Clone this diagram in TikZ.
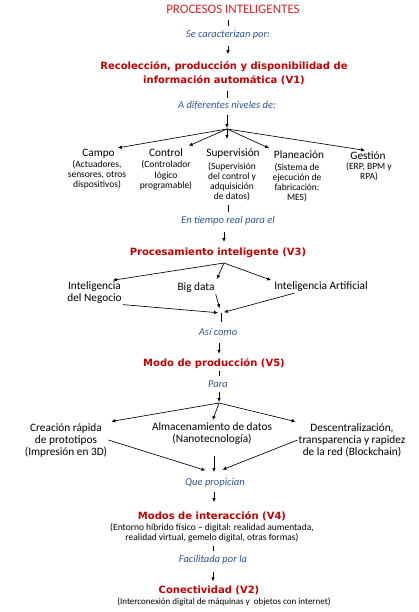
\documentclass[tikz,border=0pt]{standalone}
\usepackage{fontspec}
\setmainfont{Carlito}
\newfontfamily\headfont{DejaVu Sans}
\usetikzlibrary{arrows.meta, positioning}
\definecolor{titlered}{RGB}{212, 36, 40}
\definecolor{headred}{RGB}{196, 0, 0}
\definecolor{linkblue}{RGB}{47, 84, 150}

\tikzset{
    titletext/.style={font=\fontsize{13}{15}\selectfont, text=titlered, inner sep=1pt},
    linktext/.style={font=\fontsize{10.5}{12}\selectfont\itshape, text=linkblue, inner sep=1pt},
    headtext/.style={font=\headfont\bfseries\fontsize{10}{14}\selectfont, text=headred, align=center, inner sep=1pt},
    itemtext/.style={font=\fontsize{11.3}{12}\selectfont, align=center, inner sep=1pt},
    subtext/.style={font=\fontsize{9.5}{10.2}\selectfont, align=center, inner sep=1pt},
    tickline/.style={line width=0.65pt},
    arrowline/.style={line width=0.65pt, -{Latex[length=4pt,width=3.6pt]}},
}

\begin{document}
\begin{tikzpicture}[x=1pt, y=-1pt]
        \useasboundingbox (0,0) rectangle (418,612);

        % Título y V1
        \node[titletext] (title) at (233,9) {PROCESOS INTELIGENTES};
        \node[linktext] (carac) at (228,35) {Se caracterizan por:};
        \node[headtext] (v1) at (224,73) {Recolección, producción y disponibilidad de\\información automática (V1)};
        \node[linktext] (niveles) at (227,105) {A diferentes niveles de:};
        \coordinate (fan1) at (227,129);

        \draw[tickline, shorten <=6pt, shorten >=3pt] (carac.north |- title.south) -- (carac.north);
        \draw[arrowline, shorten <=5pt, shorten >=6pt] (carac.south) -- (carac.south |- v1.north);
        \draw[tickline, shorten <=5pt, shorten >=2pt] (niveles.north |- v1.south) -- (niveles.north);
        \draw[arrowline, shorten <=5pt, shorten >=1pt] (niveles.south) -- (fan1);

        % Niveles
        \node[itemtext] (campo) at (98.5,154) {Campo};
        \node[subtext] (camposub) at (97,175) {(Actuadores,\\sensores, otros\\dispositivos)};
        \node[itemtext] (control) at (166,153) {Control};
        \node[subtext] (controlsub) at (166,175.5) {(Controlador\\lógico\\programable)};
        \node[itemtext] (superv) at (233,154) {Supervisión};
        \node[subtext] (supervsub) at (232,181.5) {(Supervisión\\del control y\\adquisición\\de datos)};
        \node[itemtext] (planea) at (299,155) {Planeación};
        \node[subtext] (planeasub) at (297,182.5) {(Sistema de\\ejecución de\\fabricación:\\MES)};
        \node[itemtext] (gestion) at (368,156) {Gestión};
        \node[subtext] (gestionsub) at (369,171.5) {(ERP, BPM y\\RPA)};

        \draw[arrowline, shorten >=2pt] (fan1) -- (campo.north east);
        \draw[arrowline, shorten >=5pt] (fan1) -- (control.north east);
        \draw[arrowline, shorten >=9pt] (fan1) -- (fan1 |- superv.north);
        \draw[arrowline, shorten >=4pt] (fan1) -- (planea.north west);
        \draw[arrowline, shorten >=3pt] (fan1) -- (gestion.north);

        % V3
        \node[linktext] (tiempo) at (228,221) {En tiempo real para el};
        \node[headtext] (v3) at (218,253) {Procesamiento inteligente (V3)};
        \coordinate (fan2) at (224,263);

        \draw[tickline, shorten <=3pt, shorten >=3pt] (tiempo.north |- supervsub.south) -- (tiempo.north);
        \draw[arrowline, shorten <=5pt, shorten >=5pt] (tiempo.south -| fan2) -- (fan2 |- v3.north);

        \node[itemtext] (negocio) at (94.5,292.5) {Inteligencia\\del Negocio};
        \node[itemtext] (bigdata) at (196,288) {Big data};
        \node[itemtext] (ia) at (321,287) {Inteligencia Artificial};
        \coordinate (join1) at (221,313);

        \draw[arrowline, shorten >=1pt] (fan2) -- (negocio.35);
        \draw[arrowline, shorten >=3pt] (fan2) -- (bigdata.north east);
        \draw[arrowline, shorten >=2pt] (fan2) -- (ia.north west);
        \draw[arrowline, shorten >=3pt] (negocio.south east) -- (join1);
        \draw[arrowline, shorten >=5pt] (bigdata.south east) -- (join1);
        \draw[arrowline, shorten >=3pt] (ia.193) -- (join1);

        % V5
        \node[linktext] (asi) at (218,332) {Así como};
        \node[headtext] (v5) at (214,364) {Modo de producción (V5)};
        \node[linktext] (para) at (218,384) {Para};
        \coordinate (fan3) at (219,403);

        \draw[tickline, shorten >=5pt] (join1) -- (join1 |- asi.north);
        \draw[arrowline, shorten <=6pt, shorten >=4pt] (asi.south -| fan3) -- (fan3 |- v5.north);
        \draw[tickline, shorten <=1pt, shorten >=3pt] (fan3 |- v5.south) -- (fan3 |- para.north);
        \draw[arrowline, shorten <=3pt, shorten >=1pt] (fan3 |- para.south) -- (fan3);

        \node[itemtext] (creacion) at (66,440) {Creación rápida\\de prototipos\\(Impresión en 3D)};
        \node[itemtext] (almac) at (212,434) {Almacenamiento de datos\\(Nanotecnología)};
        \node[itemtext] (descen) at (352,440) {Descentralización,\\transparencia y rapidez\\de la red (Blockchain)};
        \coordinate (join2) at (214,473);

        \draw[arrowline, shorten >=3pt] (fan3) -- (creacion.north east);
        \draw[arrowline, shorten >=2pt] (fan3) -- (almac.north);
        \draw[arrowline, shorten >=2pt] (fan3) -- (descen.north west);
        \draw[arrowline, shorten >=9pt] (creacion.east) -- (join2);
        \draw[arrowline, shorten <=10pt, shorten >=1pt] (join2 |- almac.south) -- (join2);
        \draw[arrowline, shorten >=9pt] (descen.west) -- (join2);

        % V4 y V2
        \node[linktext] (propician) at (215,483) {Que propician};
        \node[headtext] (v4) at (212,516) {Modos de interacción (V4)};
        \node[subtext] (v4sub) at (212,532.5) {(Entorno híbrido físico -- digital: realidad aumentada,\\realidad virtual, gemelo digital, otras formas)};
        \node[linktext] (facil) at (213,560) {Facilitada por la};
        \node[headtext] (v2) at (209,590) {Conectividad (V2)};
        \node[subtext, font=\fontsize{9}{10}\selectfont] (v2sub) at (224,602) {(Interconexión digital de máquinas y \ objetos con internet)};

        \draw[arrowline, shorten <=3pt, shorten >=8pt] (join2 |- propician.south) -- (join2 |- v4.north);
        \draw[tickline, shorten <=3pt, shorten >=3pt] (facil.north |- v4sub.south) -- (facil.north);
        \draw[arrowline, shorten <=6pt, shorten >=3pt] (facil.south) -- (facil.south |- v2.north);

    \end{tikzpicture}
\end{document}
